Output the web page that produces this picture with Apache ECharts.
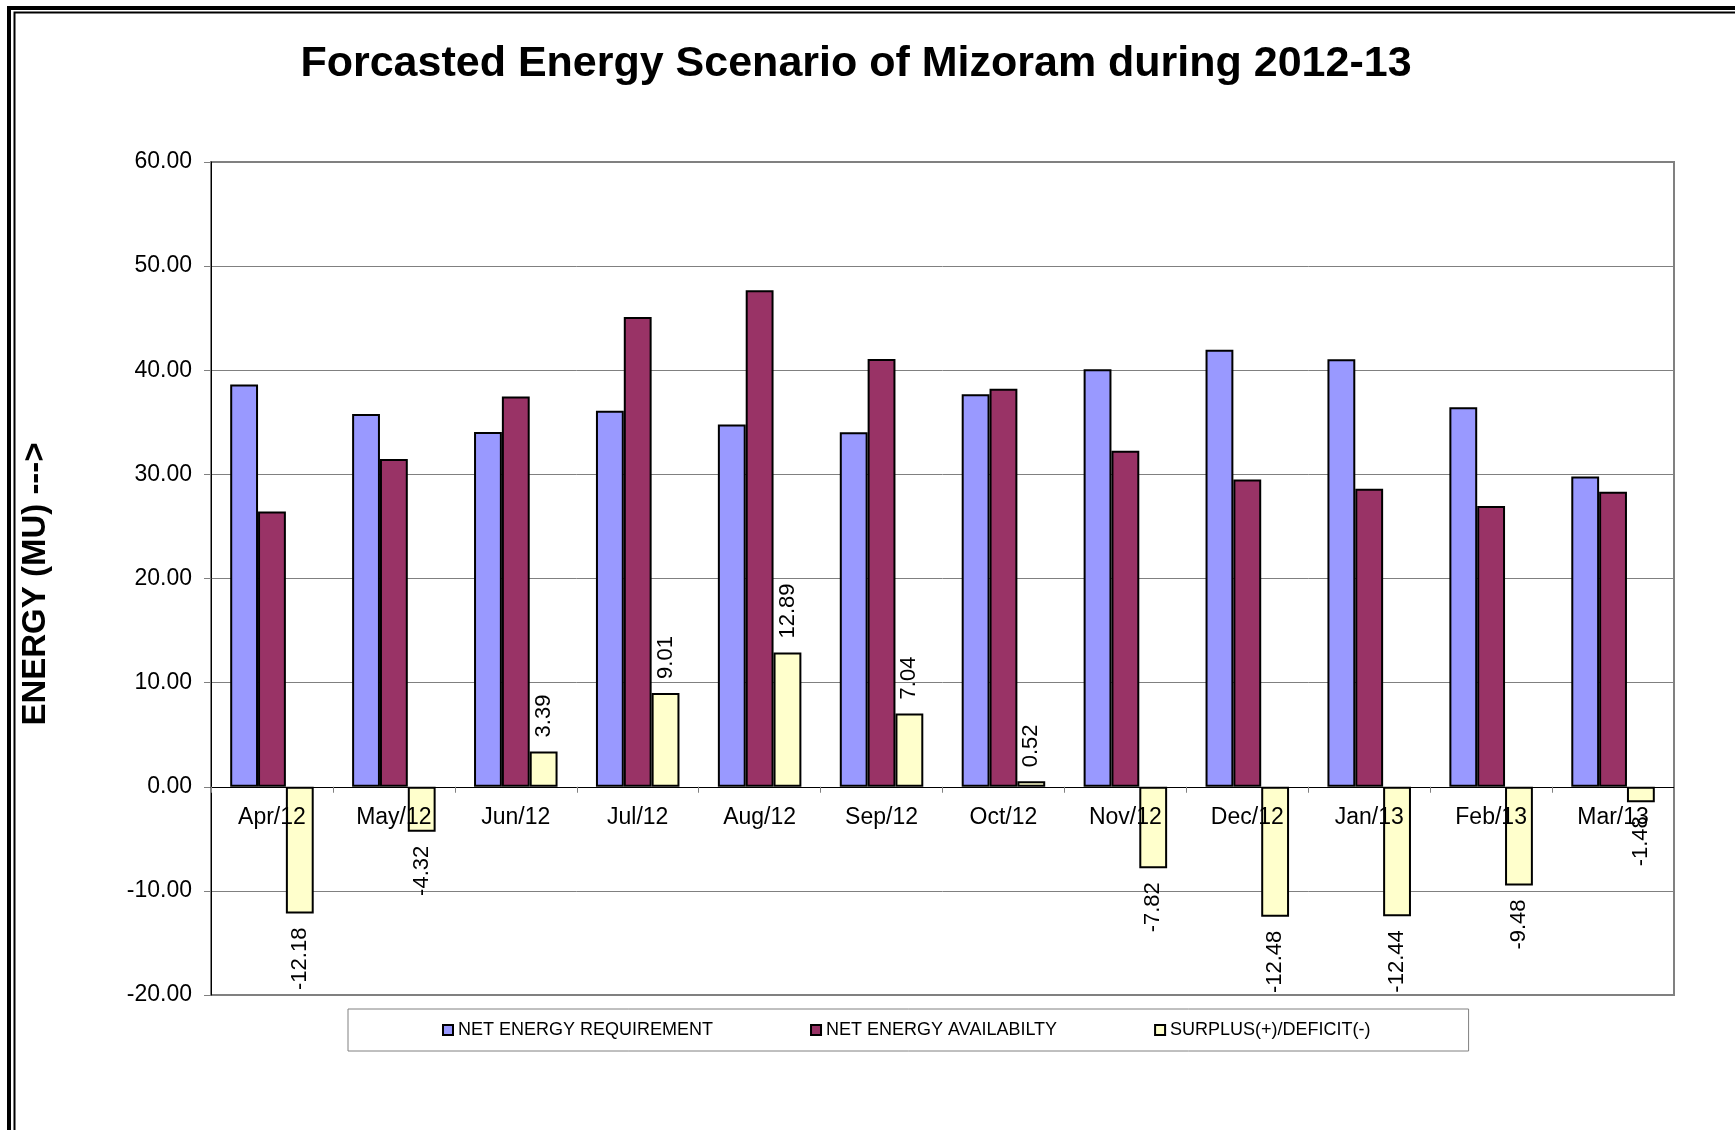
<!DOCTYPE html>
<html>
<head>
    <meta charset="utf-8">
    <title>Forcasted Energy Scenario of Mizoram</title>
    <script src="https://cdn.jsdelivr.net/npm/echarts@6/dist/echarts.min.js"></script>
    <style>
        body { margin: 0; background: #fff; }
        #main { width: 1735px; height: 1130px; }
    </style>
</head>
<body>
<div id="main"></div>
<script type="text/javascript">
    // 数据
    var months = ['Apr/12', 'May/12', 'Jun/12', 'Jul/12', 'Aug/12', 'Sep/12',
                  'Oct/12', 'Nov/12', 'Dec/12', 'Jan/13', 'Feb/13', 'Mar/13'];
    var requirement = [38.62, 35.80, 34.08, 36.10, 34.80, 34.05, 37.70, 40.10, 41.98, 41.05, 36.45, 29.80];
    var availability = [26.44, 31.48, 37.47, 45.11, 47.69, 41.09, 38.22, 32.28, 29.50, 28.61, 26.97, 28.32];
    var surplus = [-12.18, -4.32, 3.39, 9.01, 12.89, 7.04, 0.52, -7.82, -12.48, -12.44, -9.48, -1.48];
    var yTicks = { min: -20, max: 60, step: 10 };

    var font = '"Liberation Sans", Arial, sans-serif';

    // 绘图区
    var gridTop = 162, gridBottom = 135, plotH = 1130 - gridTop - gridBottom;
    // x轴放在0处：从底边往上偏移
    var zeroOffset = -plotH * (0 - yTicks.min) / (yTicks.max - yTicks.min);

    // 正值标签在柱顶上方，负值标签在柱底下方，都竖排
    var surplusData = surplus.map(function (v) {
        return {
            value: v,
            label: v < 0
                ? { position: 'bottom', align: 'right', verticalAlign: 'middle' }
                : { position: 'top', align: 'left', verticalAlign: 'middle' }
        };
    });

    var barBorder = { borderColor: '#000', borderWidth: 2 };

    var myChart = echarts.init(document.getElementById('main'));
    myChart.setOption({
        animation: false,
        backgroundColor: '#fff',
        title: {
            text: 'Forcasted Energy Scenario of Mizoram during 2012-13',
            left: 851,
            textAlign: 'center',
            top: 38,
            textStyle: { fontFamily: font, fontSize: 43, fontWeight: 'bold', color: '#000' }
        },
        graphic: [
            // 外框双线（只露出左边和上边）
            { type: 'rect', shape: { x: 9, y: 8, width: 3000, height: 3000 },
              style: { fill: 'none', stroke: '#000', lineWidth: 4 }, silent: true },
            { type: 'rect', shape: { x: 14.5, y: 12.5, width: 3000, height: 3000 },
              style: { fill: 'none', stroke: '#000', lineWidth: 2 }, silent: true },
            { type: 'text', x: 36, y: 584, rotation: Math.PI / 2,
              style: { text: 'ENERGY (MU) --->', textAlign: 'center', textVerticalAlign: 'middle',
                       font: 'bold 33px ' + font, fill: '#000' } }
        ],
        grid: {
            left: 211, right: 61, top: gridTop, bottom: gridBottom,
            show: true, borderColor: '#808080', borderWidth: 2, backgroundColor: 'transparent'
        },
        legend: {
            left: 348, top: 1009,
            padding: [12, 98, 12, 94],
            itemGap: 97,
            itemWidth: 10, itemHeight: 10,
            icon: 'rect',
            borderColor: '#808080', borderWidth: 1, backgroundColor: '#fff',
            textStyle: { fontFamily: font, fontSize: 18, color: '#000' },
            data: ['NET ENERGY REQUIREMENT', 'NET ENERGY AVAILABILTY', 'SURPLUS(+)/DEFICIT(-)']
        },
        xAxis: {
            type: 'category',
            data: months,
            z: 3,
            position: 'bottom',
            offset: zeroOffset,
            axisLine: { onZero: false, lineStyle: { color: '#000', width: 1 } },
            axisTick: { show: true, length: 6, lineStyle: { color: '#808080' } },
            axisLabel: { fontFamily: font, fontSize: 23, color: '#000', margin: 19, hideOverlap: false }
        },
        yAxis: {
            type: 'value',
            min: yTicks.min, max: yTicks.max, interval: yTicks.step,
            axisLine: { show: true, lineStyle: { color: '#000', width: 1 } },
            axisTick: { show: true, length: 7, lineStyle: { color: '#808080' } },
            axisLabel: {
                fontFamily: font, fontSize: 23, color: '#000', margin: 19,
                formatter: function (v) { return v.toFixed(2); }
            },
            splitLine: { lineStyle: { color: '#808080', width: 1 } }
        },
        series: [
            {
                name: 'NET ENERGY REQUIREMENT', type: 'bar',
                barGap: '0%', barCategoryGap: '31.5%',
                itemStyle: Object.assign({ color: '#9999FF' }, barBorder),
                data: requirement
            },
            {
                name: 'NET ENERGY AVAILABILTY', type: 'bar',
                barGap: '0%', barCategoryGap: '31.5%',
                itemStyle: Object.assign({ color: '#993366' }, barBorder),
                data: availability
            },
            {
                name: 'SURPLUS(+)/DEFICIT(-)', type: 'bar',
                barGap: '0%', barCategoryGap: '31.5%',
                itemStyle: Object.assign({ color: '#FFFFCC' }, barBorder),
                label: {
                    show: true, rotate: 90, distance: 14,
                    fontFamily: font, fontSize: 22, color: '#000',
                    formatter: function (p) { return p.value.toFixed(2); }
                },
                data: surplusData
            }
        ]
    });
</script>
</body>
</html>
